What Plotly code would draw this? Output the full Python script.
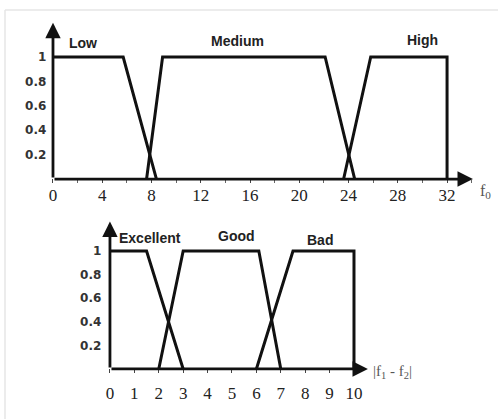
import plotly.graph_objects as go

# ---- data: top panel (f0) ----
f0_ticks = [0, 4, 8, 12, 16, 20, 24, 28, 32]
low_x = [0, 5.7, 8.4]
low_y = [1, 1, 0]
medium_x = [7.6, 8.9, 22.1, 24.5]
medium_y = [0, 1, 1, 0]
high_x = [23.6, 25.8, 32, 32]
high_y = [0, 1, 1, 0]

# ---- data: bottom panel (|f1 - f2|) ----
d_ticks = [0, 1, 2, 3, 4, 5, 6, 7, 8, 9, 10]
excellent_x = [0, 1.5, 3.0]
excellent_y = [1, 1, 0]
good_x = [2.0, 3.0, 6.1, 7.0]
good_y = [0, 1, 1, 0]
bad_x = [6.0, 7.5, 10, 10]
bad_y = [0, 1, 1, 0]

y_ticks = [0.2, 0.4, 0.6, 0.8, 1]
y_text = ["0.2", "0.4", "0.6", "0.8", "1"]

W, H = 498, 419
fig = go.Figure()
line = dict(color="#111111", width=3)

for xs, ys in [(low_x, low_y), (medium_x, medium_y), (high_x, high_y)]:
    fig.add_trace(go.Scatter(x=xs, y=ys, mode="lines", line=line, xaxis="x", yaxis="y",
                             showlegend=False, hoverinfo="skip"))
for xs, ys in [(excellent_x, excellent_y), (good_x, good_y), (bad_x, bad_y)]:
    fig.add_trace(go.Scatter(x=xs, y=ys, mode="lines", line=line, xaxis="x2", yaxis="y2",
                             showlegend=False, hoverinfo="skip"))

serif = "Liberation Serif, Times New Roman, serif"
sans = "DejaVu Sans, Liberation Sans, Arial, sans-serif"

common_x = dict(showgrid=False, zeroline=False, showline=False, ticks="inside", ticklen=4,
                tickwidth=1, tickcolor="#444", tickfont=dict(family=serif, size=17, color="#222"),
                fixedrange=True, automargin=False)
common_y = dict(showgrid=False, zeroline=False, showline=False, ticks="", tickvals=y_ticks,
                ticktext=y_text, tickfont=dict(family=sans, size=12, color="#333", weight="bold"),
                fixedrange=True, automargin=False)

fig.update_layout(
    width=W, height=H, margin=dict(l=0, r=0, t=0, b=0, autoexpand=False),
    paper_bgcolor="white", plot_bgcolor="white",
    xaxis=dict(common_x, domain=[49.3 / W, 484 / W], range=[-0.3, 35], tickvals=f0_ticks,
               minor=dict(dtick=2, ticks="inside", ticklen=3, tickcolor="#666"), anchor="y"),
    yaxis=dict(common_y, domain=[(H - 182.7) / H, (H - 20.4) / H], range=[-0.03, 1.3],
               anchor="x", ticklabelstandoff=2),
    xaxis2=dict(common_x, domain=[106.3 / W, 390.6 / W], range=[-0.15, 11.5], tickvals=d_ticks,
                anchor="y2", ticklabelstandoff=8),
    yaxis2=dict(common_y, domain=[(H - 372.5) / H, (H - 215.6) / H], range=[-0.03, 1.3],
                anchor="x2", ticklabelstandoff=4),
)

ann = []
# axis arrows
for xr, yr, tipx, tipy in [("x", "y", 34.1, 0), ("x", "y", 0, 1.28),
                           ("x2", "y2", 10.57, 0), ("x2", "y2", 0, 1.25)]:
    ann.append(dict(x=tipx, y=tipy, ax=0, ay=0, xref=xr, yref=yr, axref=xr, ayref=yr,
                    showarrow=True, arrowhead=2, arrowsize=1.1, arrowwidth=2.8,
                    arrowcolor="#111111", text="", standoff=0, startstandoff=0))

lab_font = dict(family="Liberation Sans, Arial, sans-serif", size=14, color="#222", weight="bold")
for txt, x, y, xr, yr in [("Low", 2.44, 1.115, "x", "y"), ("Medium", 15.0, 1.13, "x", "y"),
                          ("High", 30.0, 1.14, "x", "y"),
                          ("Excellent", 1.64, 1.11, "x2", "y2"), ("Good", 5.2, 1.127, "x2", "y2"),
                          ("Bad", 8.6, 1.093, "x2", "y2")]:
    ann.append(dict(x=x, y=y, xref=xr, yref=yr, text=txt, showarrow=False, font=lab_font))

ann.append(dict(x=478 / W, y=1 - 192 / H, xref="paper", yref="paper", text="f<sub>0</sub>",
                xanchor="left", showarrow=False, font=dict(family=serif, size=16, color="#555")))
ann.append(dict(x=371 / W, y=1 - 383 / H, xref="paper", yref="paper", text="|f<sub>1</sub> - f<sub>2</sub>|",
                xanchor="left", showarrow=False, font=dict(family=serif, size=15, color="#555")))
fig.update_layout(annotations=ann)

# faint scan frame
fig.add_shape(type="line", xref="paper", yref="paper", x0=5 / W, x1=1, y0=1 - 10 / H, y1=1 - 10 / H,
              line=dict(color="#e6e6e6", width=1.5))
fig.add_shape(type="line", xref="paper", yref="paper", x0=5 / W, x1=5 / W, y0=0, y1=1 - 10 / H,
              line=dict(color="#e6e6e6", width=1.5))

fig.write_html("out.html", config={"displayModeBar": False},
               post_script="document.body.style.margin='0';document.body.style.overflow='hidden';")
